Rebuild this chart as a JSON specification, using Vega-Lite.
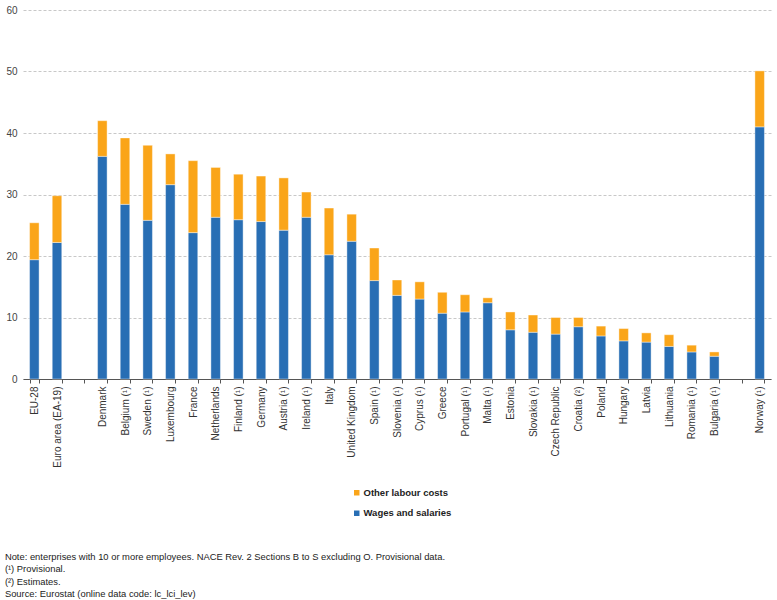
{
  "$schema": "https://vega.github.io/schema/vega-lite/v6.json",
  "width": 748,
  "height": 369,
  "padding": {"left": 4, "top": 5, "right": 5, "bottom": 3},
  "background": "white",
  "config": {
    "font": "Liberation Sans",
    "view": {"stroke": null}
  },
  "title": {
    "text": "Note: enterprises with 10 or more employees. NACE Rev. 2 Sections B to S excluding O. Provisional data.",
    "subtitle": ["(¹) Provisional.", "(²) Estimates.", "Source: Eurostat (online data code: lc_lci_lev)"],
    "orient": "bottom",
    "anchor": "start",
    "frame": "bounds",
    "dx": -1,
    "fontSize": 9.4,
    "fontWeight": "normal",
    "color": "#222",
    "subtitleFontSize": 9.4,
    "subtitleColor": "#222",
    "subtitlePadding": 3,
    "subtitleLineHeight": 12.4,
    "offset": 35
  },
  "data": {
    "values": [
      {"country": "EU-28", "component": "Wages and salaries", "value": 19.4},
      {"country": "EU-28", "component": "Other labour costs", "value": 6.0},
      {"country": "Euro area (EA-19)", "component": "Wages and salaries", "value": 22.2},
      {"country": "Euro area (EA-19)", "component": "Other labour costs", "value": 7.6},
      {"country": "Denmark", "component": "Wages and salaries", "value": 36.2},
      {"country": "Denmark", "component": "Other labour costs", "value": 5.8},
      {"country": "Belgium (¹)", "component": "Wages and salaries", "value": 28.4},
      {"country": "Belgium (¹)", "component": "Other labour costs", "value": 10.8},
      {"country": "Sweden (¹)", "component": "Wages and salaries", "value": 25.8},
      {"country": "Sweden (¹)", "component": "Other labour costs", "value": 12.2},
      {"country": "Luxembourg", "component": "Wages and salaries", "value": 31.6},
      {"country": "Luxembourg", "component": "Other labour costs", "value": 5.0},
      {"country": "France", "component": "Wages and salaries", "value": 23.8},
      {"country": "France", "component": "Other labour costs", "value": 11.7},
      {"country": "Netherlands", "component": "Wages and salaries", "value": 26.3},
      {"country": "Netherlands", "component": "Other labour costs", "value": 8.1},
      {"country": "Finland (¹)", "component": "Wages and salaries", "value": 25.9},
      {"country": "Finland (¹)", "component": "Other labour costs", "value": 7.4},
      {"country": "Germany", "component": "Wages and salaries", "value": 25.6},
      {"country": "Germany", "component": "Other labour costs", "value": 7.4},
      {"country": "Austria (¹)", "component": "Wages and salaries", "value": 24.2},
      {"country": "Austria (¹)", "component": "Other labour costs", "value": 8.5},
      {"country": "Ireland (¹)", "component": "Wages and salaries", "value": 26.3},
      {"country": "Ireland (¹)", "component": "Other labour costs", "value": 4.1},
      {"country": "Italy", "component": "Wages and salaries", "value": 20.2},
      {"country": "Italy", "component": "Other labour costs", "value": 7.6},
      {"country": "United Kingdom", "component": "Wages and salaries", "value": 22.4},
      {"country": "United Kingdom", "component": "Other labour costs", "value": 4.4},
      {"country": "Spain (¹)", "component": "Wages and salaries", "value": 16.0},
      {"country": "Spain (¹)", "component": "Other labour costs", "value": 5.3},
      {"country": "Slovenia (¹)", "component": "Wages and salaries", "value": 13.6},
      {"country": "Slovenia (¹)", "component": "Other labour costs", "value": 2.5},
      {"country": "Cyprus (¹)", "component": "Wages and salaries", "value": 13.0},
      {"country": "Cyprus (¹)", "component": "Other labour costs", "value": 2.8},
      {"country": "Greece", "component": "Wages and salaries", "value": 10.7},
      {"country": "Greece", "component": "Other labour costs", "value": 3.4},
      {"country": "Portugal (¹)", "component": "Wages and salaries", "value": 10.9},
      {"country": "Portugal (¹)", "component": "Other labour costs", "value": 2.8},
      {"country": "Malta (¹)", "component": "Wages and salaries", "value": 12.4},
      {"country": "Malta (¹)", "component": "Other labour costs", "value": 0.8},
      {"country": "Estonia", "component": "Wages and salaries", "value": 8.0},
      {"country": "Estonia", "component": "Other labour costs", "value": 2.9},
      {"country": "Slovakia (¹)", "component": "Wages and salaries", "value": 7.6},
      {"country": "Slovakia (¹)", "component": "Other labour costs", "value": 2.8},
      {"country": "Czech Republic", "component": "Wages and salaries", "value": 7.3},
      {"country": "Czech Republic", "component": "Other labour costs", "value": 2.7},
      {"country": "Croatia (²)", "component": "Wages and salaries", "value": 8.5},
      {"country": "Croatia (²)", "component": "Other labour costs", "value": 1.5},
      {"country": "Poland", "component": "Wages and salaries", "value": 7.0},
      {"country": "Poland", "component": "Other labour costs", "value": 1.6},
      {"country": "Hungary", "component": "Wages and salaries", "value": 6.2},
      {"country": "Hungary", "component": "Other labour costs", "value": 2.0},
      {"country": "Latvia", "component": "Wages and salaries", "value": 6.0},
      {"country": "Latvia", "component": "Other labour costs", "value": 1.5},
      {"country": "Lithuania", "component": "Wages and salaries", "value": 5.3},
      {"country": "Lithuania", "component": "Other labour costs", "value": 1.9},
      {"country": "Romania (¹)", "component": "Wages and salaries", "value": 4.4},
      {"country": "Romania (¹)", "component": "Other labour costs", "value": 1.1},
      {"country": "Bulgaria (¹)", "component": "Wages and salaries", "value": 3.7},
      {"country": "Bulgaria (¹)", "component": "Other labour costs", "value": 0.7},
      {"country": "Norway (¹)", "component": "Wages and salaries", "value": 41.0},
      {"country": "Norway (¹)", "component": "Other labour costs", "value": 9.1}
    ]
  },
  "mark": {"type": "bar", "stroke": "#ffffff", "strokeOpacity": 0.5, "strokeWidth": 0.8},
  "encoding": {
    "x": {
      "field": "country",
      "type": "nominal",
      "scale": {
        "domain": ["EU-28", "Euro area (EA-19)", "gap1", "Denmark", "Belgium (¹)", "Sweden (¹)", "Luxembourg", "France", "Netherlands", "Finland (¹)", "Germany", "Austria (¹)", "Ireland (¹)", "Italy", "United Kingdom", "Spain (¹)", "Slovenia (¹)", "Cyprus (¹)", "Greece", "Portugal (¹)", "Malta (¹)", "Estonia", "Slovakia (¹)", "Czech Republic", "Croatia (²)", "Poland", "Hungary", "Latvia", "Lithuania", "Romania (¹)", "Bulgaria (¹)", "gap2", "Norway (¹)"],
        "paddingInner": 0.58,
        "paddingOuter": 0.29
      },
      "axis": {
        "title": null,
        "labelAngle": -90,
        "labelFontSize": 10,
        "labelColor": "#333",
        "labelPadding": 3,
        "labelExpr": "indexof(datum.label, 'gap') == 0 ? '' : datum.label",
        "tickBand": "extent",
        "tickSize": 4,
        "tickColor": "#555",
        "domainColor": "#555",
        "grid": false
      }
    },
    "y": {
      "field": "value",
      "type": "quantitative",
      "aggregate": "sum",
      "stack": "zero",
      "scale": {"domain": [0, 60]},
      "axis": {
        "title": null,
        "values": [0, 10, 20, 30, 40, 50, 60],
        "labelFontSize": 10,
        "labelColor": "#444",
        "ticks": false,
        "domain": false,
        "labelPadding": 6,
        "gridColor": "#c8c8c8",
        "gridDash": [3, 2],
        "gridWidth": 1
      }
    },
    "color": {
      "field": "component",
      "type": "nominal",
      "scale": {
        "domain": ["Other labour costs", "Wages and salaries"],
        "range": ["#FAA519", "#286EB4"]
      },
      "legend": {
        "title": null,
        "orient": "none",
        "legendX": 329,
        "legendY": 478,
        "direction": "vertical",
        "symbolType": "square",
        "symbolSize": 30,
        "symbolStrokeWidth": 0,
        "labelFontSize": 9.5,
        "labelFontWeight": "bold",
        "labelColor": "#222",
        "rowPadding": 9.5,
        "labelOffset": 2
      }
    },
    "order": {"field": "component", "sort": "descending"}
  }
}
